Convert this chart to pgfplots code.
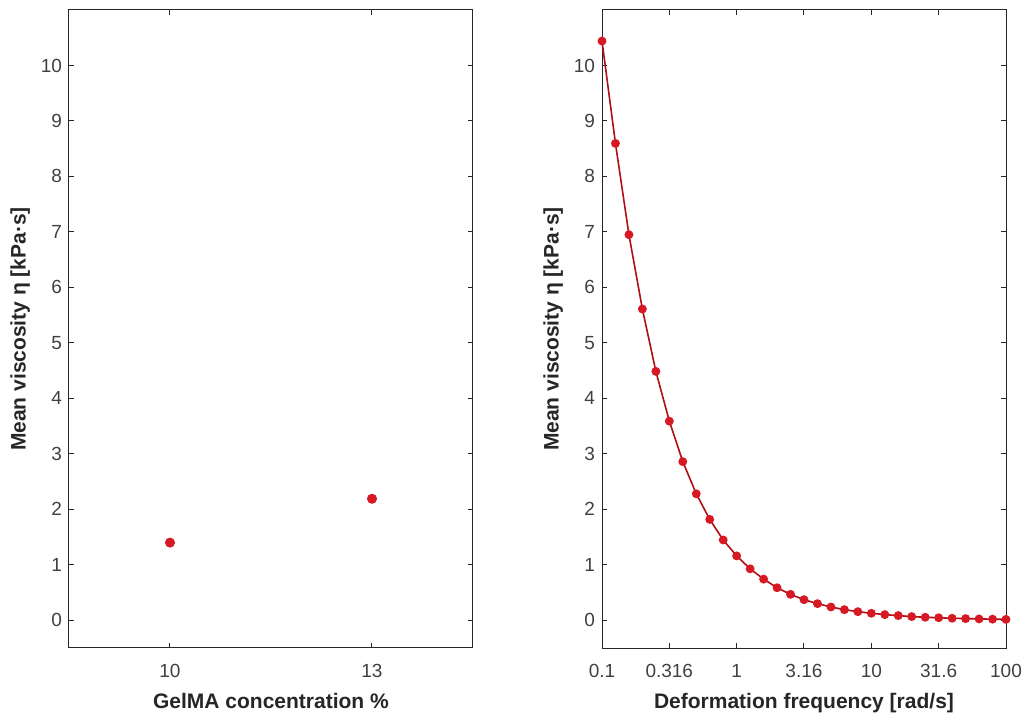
\documentclass[border=0pt]{standalone}
\usepackage{pgfplots}
\pgfplotsset{compat=1.18}
\usepackage{fontspec}
\setmainfont{Liberation Sans}
\definecolor{mred}{RGB}{215,25,35}
\definecolor{mline}{RGB}{175,15,20}
\definecolor{tickgray}{RGB}{64,64,64}
\definecolor{labgray}{RGB}{38,38,38}
\pgfplotsset{
  mstyle/.style={
    scale only axis, width=202pt, height=319pt,
    ymin=-0.5, ymax=11, ytick={0,1,...,10},
    tick align=inside, major tick length=2.5pt,
    axis line style={labgray, line width=0.5pt},
    every tick/.style={labgray, line width=0.5pt},
    tick label style={font=\fontsize{9.5}{11}\selectfont, text=tickgray},
    xticklabel style={yshift=-4.5pt},
    label style={font=\fontsize{10.5}{12}\selectfont\bfseries, text=labgray},
    /pgf/number format/assume math mode=true,
    xlabel style={yshift=-1pt},
    ylabel style={yshift=-1.5pt},
    ylabel={Mean viscosity η [kPa·s]},
    clip=false,
  }
}
\begin{document}
\begin{tikzpicture}
\path[use as bounding box] (-34.5pt,-34.5pt) rectangle (479pt,324pt);
\begin{axis}[mstyle, at={(0pt,0pt)}, anchor=south west,
  xmin=8.5, xmax=14.5, xtick={10,13},
  xlabel={GelMA concentration \%}]
\addplot[only marks, mark=*, mark size=2.3pt, color=mred] coordinates {(10,1.40) (13,2.19)};
\end{axis}
\begin{axis}[mstyle, at={(266.5pt,0pt)}, anchor=south west,
  xmode=log, xmin=0.1, xmax=100,
  xtick={0.1,0.316,1,3.16,10,31.6,100},
  xticklabels={0.1,0.316,1,3.16,10,31.6,100},
  xminorticks=false,
  xlabel={Deformation frequency [rad/s]}]
\addplot[color=mline, line width=0.8pt, mark=*, mark size=1.8pt, mark options={mred}] coordinates {
(0.1000,10.44) (0.1259,8.595) (0.1585,6.95) (0.1995,5.61) (0.2512,4.486)
(0.3162,3.589) (0.3981,2.859) (0.5012,2.279) (0.6310,1.818) (0.7943,1.447)
(1.0000,1.160) (1.2589,0.927) (1.5849,0.742) (1.9953,0.586) (2.5119,0.467)
(3.1623,0.371) (3.9811,0.299) (5.0119,0.239) (6.3096,0.191) (7.9433,0.155)
(10.000,0.126) (12.589,0.102) (15.849,0.084) (19.953,0.066) (25.119,0.054)
(31.623,0.045) (39.811,0.036) (50.119,0.030) (63.096,0.024) (79.433,0.020)
(100.00,0.016)};
\end{axis}
\end{tikzpicture}
\end{document}
